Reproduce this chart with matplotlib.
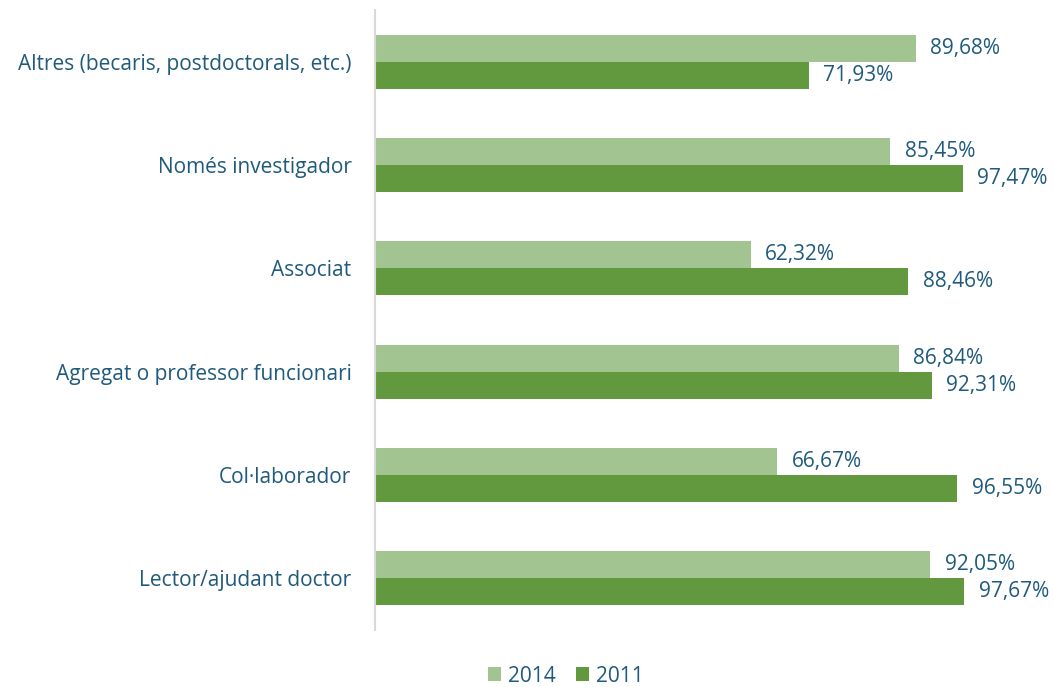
import matplotlib
matplotlib.use("Agg")
import matplotlib.pyplot as plt
import numpy as np

categories = ["Lector/ajudant doctor", "Col·laborador", "Agregat o professor funcionari",
              "Associat", "Només investigador", "Altres (becaris, postdoctorals, etc.)"]
values_2014 = [92.05, 66.67, 86.84, 62.32, 85.45, 89.68]
values_2011 = [97.67, 96.55, 92.31, 88.46, 97.47, 71.93]
series_names = ["2014", "2011"]

c2014 = "#A2C490"
c2011 = "#62993E"
txt = "#1F5A7C"

plt.rcParams['font.family'] = ['Open Sans', 'DejaVu Sans']

fig = plt.figure(figsize=(10.54, 6.87), dpi=100)
ax = fig.add_axes([375/1054, 57/687, 603/1054, 620/687])

y = np.arange(len(categories))
h = 0.26
b1 = ax.barh(y + h/2, values_2014, height=h, color=c2014, label=series_names[0])
b2 = ax.barh(y - h/2, values_2011, height=h, color=c2011, label=series_names[1])

for bars, vals in ((b1, values_2014), (b2, values_2011)):
    for bar, v in zip(bars, vals):
        ax.annotate(f"{v:.2f}%".replace(".", ","),
                    xy=(bar.get_width(), bar.get_y() + bar.get_height()/2),
                    xytext=(10.5, 0), textcoords="offset points", ha="left", va="center",
                    fontsize=15, color=txt, annotation_clip=False)

ax.set_xlim(0, 100)
ax.set_ylim(-0.5, len(categories) - 0.5)
ax.set_yticks(y)
ax.set_yticklabels(categories, fontsize=15, color=txt)
ax.tick_params(axis='y', length=0, pad=17)
ax.set_xticks([])
for s in ["top", "right", "bottom"]:
    ax.spines[s].set_visible(False)
ax.spines["left"].set_color("#D9D9D9")
ax.spines["left"].set_linewidth(1.5)

fig.legend(handles=[b1, b2], labels=series_names, loc="center", bbox_to_anchor=(0.537, 0.016),
           ncol=2, frameon=False, fontsize=15, labelcolor=txt, handlelength=0.63, handleheight=0.63,
           handletextpad=0.34, columnspacing=0.96, borderpad=0)

fig.savefig("out.png", dpi=100)
